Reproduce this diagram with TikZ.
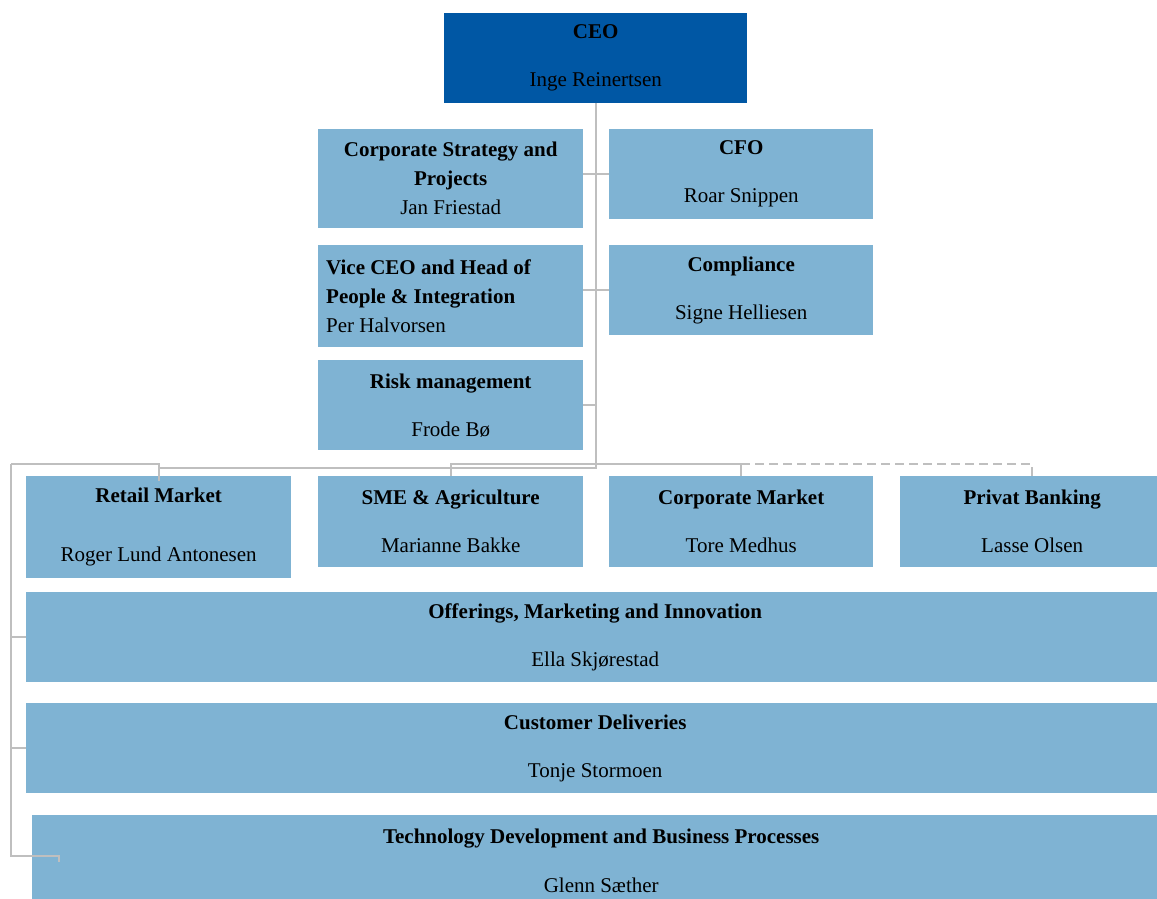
\documentclass[tikz,border=0pt]{standalone}
\usepackage{fontspec}
\setmainfont{Liberation Serif}
\definecolor{boxblue}{RGB}{127,179,211}
\definecolor{ceoblue}{RGB}{0,87,164}
\definecolor{linegray}{RGB}{191,191,191}
\begin{document}
\begin{tikzpicture}[x=1pt,y=-1pt,
  box/.style={fill=boxblue, draw=none, anchor=north west, inner sep=0pt, align=center,
    font=\fontsize{21}{29}\selectfont},
  conn/.style={draw=linegray, line width=2pt},
  dconn/.style={conn, dash pattern=on 9pt off 5pt}
]
\useasboundingbox (0,0) rectangle (1157,899);
\node[box, fill=ceoblue, minimum width=303pt, minimum height=90pt] (ceo) at (444,13) {\textbf{CEO}\\[19pt]Inge Reinertsen};
\node[box, minimum width=265pt, minimum height=99pt] (csp) at (318,129) {\textbf{Corporate Strategy and}\\\textbf{Projects}\\Jan Friestad};
\node[box, minimum width=264pt, minimum height=90pt] (cfo) at (609,129) {\textbf{CFO}\\[19pt]Roar Snippen};
\node[box, align=flush left, inner xsep=8pt, text width=249pt, minimum width=265pt, minimum height=102pt] (vice) at (318,245) {\textbf{Vice CEO and Head of}\\\textbf{People \& Integration}\\Per Halvorsen};
\node[box, minimum width=264pt, minimum height=90pt] (comp) at (609,245) {\textbf{Compliance}\\[19pt]Signe Helliesen};
\node[box, minimum width=265pt, minimum height=90pt] (risk) at (318,360) {\textbf{Risk management}\\[19pt]Frode Bø};
\node[box, minimum width=265pt, minimum height=102pt] (retail) at (26,476) {\textbf{Retail Market}\\[30pt]Roger Lund Antonesen};
\node[box, minimum width=265pt, minimum height=91pt] (sme) at (318,476) {\textbf{SME \& Agriculture}\\[19pt]Marianne Bakke};
\node[box, minimum width=264pt, minimum height=91pt] (corp) at (609,476) {\textbf{Corporate Market}\\[19pt]Tore Medhus};
\node[box, minimum width=264pt, minimum height=91pt] (priv) at (900,476) {\textbf{Privat Banking}\\[19pt]Lasse Olsen};
\node[box, minimum width=1138pt, minimum height=90pt] (offer) at (26,592) {\textbf{Offerings, Marketing and Innovation}\\[19pt]Ella Skjørestad};
\node[box, minimum width=1138pt, minimum height=90pt] (cust) at (26,703) {\textbf{Customer Deliveries}\\[19pt]Tonje Stormoen};
\node[box, minimum width=1138pt, minimum height=91pt] (tech) at (32,815) {\textbf{Technology Development and Business Processes}\\[20pt]Glenn Sæther};

\coordinate (busL) at (159,468);
\coordinate (busR) at (450,464);
\coordinate (lft) at (11,464);
\coordinate (hook) at (59,856);

\draw[conn] (ceo.south) |- (busL);
\draw[conn] (csp.east |- cfo.west) -- (cfo.west);
\draw[conn] (vice.east |- comp.west) -- (comp.west);
\draw[conn] (risk.east) -- (risk.east -| ceo.south);
\draw[conn] (lft) -| ([yshift=-5pt]retail.north);
\draw[conn] (sme.north) |- (corp.north |- busR) -- (corp.north);
\draw[dconn] (corp.north |- busR) -| (priv.north);
\draw[conn] (lft) |- (offer.west);
\draw[conn] (lft) |- (cust.west);
\draw[conn] (lft) |- (hook) -- ++(0,6);
\end{tikzpicture}
\end{document}
